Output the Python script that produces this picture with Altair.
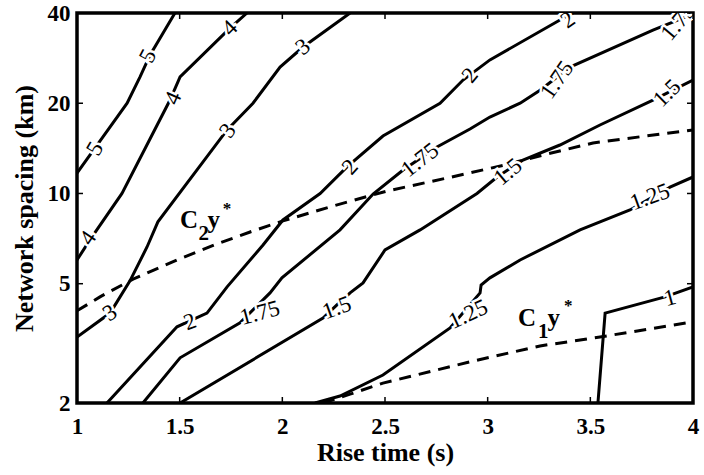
import altair as alt
import pandas as pd

FONT = "Liberation Serif"
W, H = 616, 390

# ---- contour lines (rise time s, network spacing km) ----
c5_t = [1.0, 1.088, 1.244, 1.307, 1.356, 1.477]
c5_y = [11.7, 14.2, 20.0, 24.5, 29.0, 40.0]

c4_t = [1.0, 1.063, 1.219, 1.453, 1.502, 1.745, 1.828]
c4_y = [6.0, 7.0, 10.0, 20.5, 24.5, 35.6, 40.0]

c3_t = [1.0, 1.161, 1.258, 1.341, 1.394, 1.731, 1.857, 1.989, 2.101, 2.330]
c3_y = [3.32, 3.99, 5.11, 6.63, 8.04, 16.3, 20.0, 26.4, 30.8, 40.0]

c2_t = [1.146, 1.487, 1.633, 1.731, 1.906, 2.003, 2.184, 2.315, 2.490, 2.768, 2.880, 3.011, 3.352, 3.416]
c2_y = [2.0, 3.59, 3.99, 4.88, 6.73, 8.16, 10.0, 12.26, 15.55, 20.0, 23.9, 27.9, 37.9, 40.0]

c175_t = [1.321, 1.502, 1.794, 1.940, 1.998, 2.281, 2.442, 2.588, 2.753, 2.914, 3.011, 3.158, 3.255, 3.401, 3.805, 4.0]
c175_y = [2.0, 2.83, 3.70, 4.66, 5.23, 7.56, 9.96, 11.98, 14.29, 16.41, 17.99, 20.0, 22.1, 26.4, 35.1, 39.7]

c15_t = [1.502, 2.198, 2.266, 2.330, 2.393, 2.500, 2.671, 2.948, 3.046, 3.172, 3.352, 3.547, 3.805, 4.0]
c15_y = [2.0, 3.84, 4.25, 4.66, 5.03, 6.48, 7.56, 10.0, 11.35, 12.93, 14.51, 16.92, 20.5, 23.9]

c125_t = [2.159, 2.281, 2.490, 2.817, 2.963, 2.968, 3.011, 3.158, 3.450, 3.693, 3.888, 4.0]
c125_y = [2.0, 2.11, 2.48, 3.56, 4.66, 4.95, 5.23, 6.0, 7.56, 8.81, 10.5, 11.35]

c1_t = [3.537, 3.572, 3.864, 4.0]
c1_y = [2.0, 3.99, 4.52, 4.88]

# ---- dashed curves ----
c2star_t = [1.0, 1.112, 1.273, 1.487, 1.682, 1.843, 2.003, 2.232, 2.510, 2.802, 3.085, 3.270, 3.513, 4.0]
c2star_y = [4.06, 4.52, 5.18, 6.0, 6.79, 7.44, 8.10, 9.02, 10.19, 11.26, 12.45, 13.44, 14.74, 16.3]

c1star_t = [2.198, 2.330, 2.490, 2.929, 3.255, 3.547, 4.0]
c1star_y = [2.0, 2.14, 2.33, 2.76, 3.10, 3.32, 3.73]

# ---- contour labels ----
lab_text = ["5", "5", "4", "4", "4", "3", "3", "3", "2", "2", "2", "2",
            "1.75", "1.75", "1.75", "1.75", "1.5", "1.5", "1.5", "1.25", "1.25", "1"]
lab_t = [1.088, 1.346, 1.054, 1.468, 1.745, 1.161, 1.735, 2.101, 1.550, 2.330, 2.914, 3.391,
         1.891, 2.671, 3.338, 3.929, 2.266, 3.099, 3.874, 2.905, 3.791, 3.888]
lab_y = [14.1, 28.7, 7.1, 20.8, 35.6, 3.99, 16.2, 30.8, 3.73, 12.26, 24.8, 37.9,
         3.99, 12.93, 23.9, 37.3, 4.15, 11.8, 21.6, 3.95, 9.73, 4.48]
lab_angle = [300, 298, 304, 294, 315, 325, 305, 322, 340, 312, 310, 325,
             345, 322, 305, 310, 340, 320, 315, 335, 340, 345]

# ---- annotation pieces: C2y*, C1y* ----
ann_text = ["C", "2", "y", "*", "C", "1", "y", "*"]
ann_t = [1.502, 1.592, 1.636, 1.710, 3.148, 3.245, 3.292, 3.372]
ann_y = [7.67, 7.0, 7.67, 8.54, 3.61, 3.29, 3.61, 4.06]
ann_size = [25, 21, 25, 17, 25, 21, 25, 17]

x_ticks = [1, 1.5, 2, 2.5, 3, 3.5, 4]
y_ticks = [2, 5, 10, 20, 40]

levels = [("5", c5_t, c5_y), ("4", c4_t, c4_y), ("3", c3_t, c3_y), ("2", c2_t, c2_y),
          ("1.75", c175_t, c175_y), ("1.5", c15_t, c15_y), ("1.25", c125_t, c125_y),
          ("1", c1_t, c1_y)]
rows = []
for name, ts, ys_ in levels:
    for i, (t, y) in enumerate(zip(ts, ys_)):
        rows.append({"level": name, "t": t, "y": y, "o": i})
contours = pd.DataFrame(rows)

drows = []
for name, ts, ys_ in [("C2", c2star_t, c2star_y), ("C1", c1star_t, c1star_y)]:
    for i, (t, y) in enumerate(zip(ts, ys_)):
        drows.append({"series": name, "t": t, "y": y, "o": i})
dashed = pd.DataFrame(drows)

labels = pd.DataFrame({"text": lab_text, "t": lab_t, "y": lab_y, "angle": lab_angle})
ann = pd.DataFrame({"text": ann_text, "t": ann_t, "y": ann_y, "size": ann_size})

xs = alt.Scale(domain=[1, 4], nice=False, zero=False)
ys = alt.Scale(type="log", domain=[2, 40], nice=False)

X = alt.X("t:Q", scale=xs, axis=alt.Axis(
    values=x_ticks, format="~g", ticks=False, domain=False, grid=False, labelFont=FONT,
    labelFontSize=23, labelFontWeight="bold", labelColor="black", labelPadding=12,
    title="Rise time (s)", titleFont=FONT, titleFontSize=26, titleFontWeight="bold",
    titleColor="black", titleBaseline="alphabetic", titleY=57, labelFlush=False,
    labelOverlap=False))
Y = alt.Y("y:Q", scale=ys, axis=alt.Axis(
    values=y_ticks, format="~g", ticks=False, domain=False, grid=False, labelFont=FONT,
    labelFontSize=23, labelFontWeight="bold", labelColor="black", labelPadding=7,
    title="Network spacing (km)", titleFont=FONT, titleFontSize=26,
    titleFontWeight="bold", titleColor="black", titleAngle=270,
    titleBaseline="alphabetic", titleX=-45, titleY=195, titleAlign="center",
    labelFlush=False, labelOverlap=False))

lines = alt.Chart(contours).mark_line(color="black", strokeWidth=3, clip=True).encode(
    x=X, y=Y, detail="level:N", order="o:Q")

dash = alt.Chart(dashed).mark_line(color="black", strokeWidth=3, strokeDash=[12, 8], clip=True).encode(
    x=alt.X("t:Q", scale=xs), y=alt.Y("y:Q", scale=ys), detail="series:N", order="o:Q")

halo = alt.Chart(labels).mark_text(font=FONT, fontSize=23, color="white", stroke="white",
                                   strokeWidth=5, align="center", baseline="middle", clip=True).encode(
    x=alt.X("t:Q", scale=xs), y=alt.Y("y:Q", scale=ys), text="text:N",
    angle=alt.Angle("angle:Q", scale=None))
txt = alt.Chart(labels).mark_text(font=FONT, fontSize=23, color="black",
                                  align="center", baseline="middle", clip=True).encode(
    x=alt.X("t:Q", scale=xs), y=alt.Y("y:Q", scale=ys), text="text:N",
    angle=alt.Angle("angle:Q", scale=None))

anno = alt.Chart(ann).mark_text(font=FONT, fontWeight="bold", color="black",
                                align="left", baseline="alphabetic").encode(
    x=alt.X("t:Q", scale=xs), y=alt.Y("y:Q", scale=ys), text="text:N",
    size=alt.Size("size:Q", scale=None))

xt = pd.DataFrame({"t": x_ticks})
yt = pd.DataFrame({"y": y_ticks})
xtick_b = alt.Chart(xt).mark_rule(color="black", strokeWidth=1.5).encode(
    x=alt.X("t:Q", scale=xs), y=alt.value(H), y2=alt.value(H - 6))
xtick_t = alt.Chart(xt).mark_rule(color="black", strokeWidth=1.5).encode(
    x=alt.X("t:Q", scale=xs), y=alt.value(0), y2=alt.value(6))
ytick_l = alt.Chart(yt).mark_rule(color="black", strokeWidth=1.5).encode(
    y=alt.Y("y:Q", scale=ys), x=alt.value(0), x2=alt.value(6))
ytick_r = alt.Chart(yt).mark_rule(color="black", strokeWidth=1.5).encode(
    y=alt.Y("y:Q", scale=ys), x=alt.value(W), x2=alt.value(W - 6))

chart = alt.layer(lines, dash, halo, txt, anno, xtick_b, xtick_t, ytick_l, ytick_r).properties(
    width=W, height=H,
    autosize=alt.AutoSizeParams(type="none"),
    padding={"left": 77, "top": 13, "right": 11, "bottom": 72},
    background="white",
).configure_view(stroke="black", strokeWidth=3.5)

chart.save("out.html", embed_options={"renderer": "svg", "actions": False})
